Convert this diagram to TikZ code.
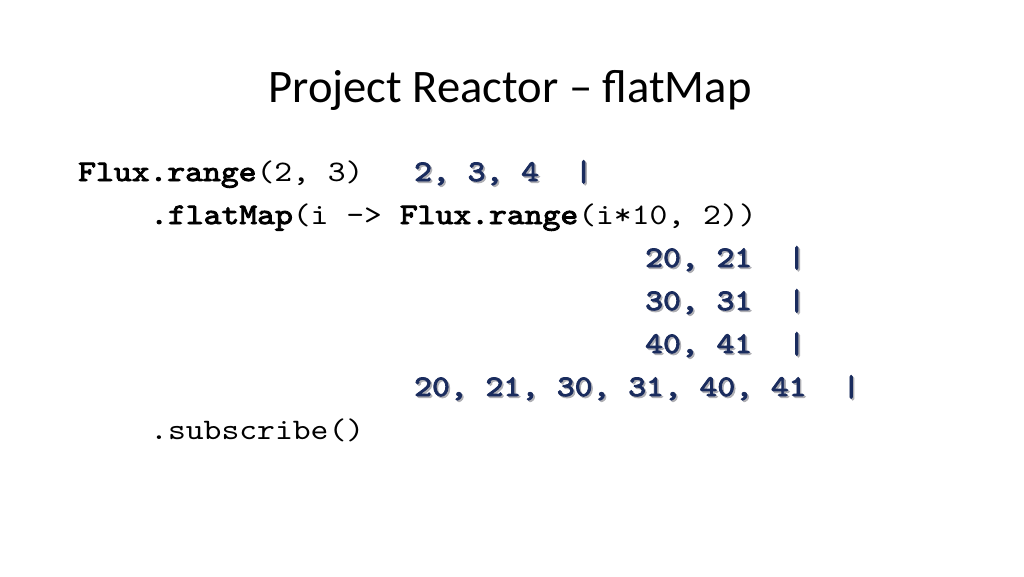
\documentclass[tikz,border=0pt]{standalone}
\usepackage{fontspec}
\setmainfont{Carlito}
\newfontfamily\codefont{lmmono10-regular}[Extension=.otf, FakeStretch=1.14,
  BoldFont=lmmono10-regular, BoldFeatures={FakeBold=3}]
\definecolor{navy}{RGB}{26,44,94}
\definecolor{shadowgray}{RGB}{175,175,180}
\frenchspacing
\tikzset{
  codetext/.style={anchor=base west, inner sep=0pt, text=black,
    font=\codefont\fontsize{29.8}{30}\selectfont},
  bluecode/.style={codetext, text=navy, font=\codefont\bfseries\fontsize{29.8}{30}\selectfont},
  blueshadow/.style={bluecode, text=shadowgray, xshift=1.6pt, yshift=-1.6pt},
  titletext/.style={anchor=base, inner sep=0pt, text=black,
    font=\fontsize{46.6}{50}\selectfont}
}
\begin{document}
\begin{tikzpicture}[x=1pt,y=-1pt]
\useasboundingbox (0,0) rectangle (1024,576);
\fill[white] (0,0) rectangle (1024,576);
\node[titletext] (title) at (510,102) {Project Reactor – flatMap};
% black code
\node[codetext] (l1) at (78,181) {\textbf{Flux.range}(2,~3)};
\node[codetext] (l2) at (150,224) {\textbf{.flatMap}(i~->~\textbf{Flux.range}(i*10,~2))};
\node[codetext] (l7) at (150,439) {.subscribe()};
% blue annotations with shadow
\node[blueshadow] (b1s) at (414,181) {2,~3,~4~~|};
\node[bluecode] (b1) at (414,181) {2,~3,~4~~|};
\node[blueshadow] (b2s) at (645,267) {20,~21~~|};
\node[bluecode] (b2) at (645,267) {20,~21~~|};
\node[blueshadow] (b3s) at (645,310) {30,~31~~|};
\node[bluecode] (b3) at (645,310) {30,~31~~|};
\node[blueshadow] (b4s) at (645,353) {40,~41~~|};
\node[bluecode] (b4) at (645,353) {40,~41~~|};
\node[blueshadow] (b5s) at (414,396) {20,~21,~30,~31,~40,~41~~|};
\node[bluecode] (b5) at (414,396) {20,~21,~30,~31,~40,~41~~|};
\end{tikzpicture}
\end{document}
